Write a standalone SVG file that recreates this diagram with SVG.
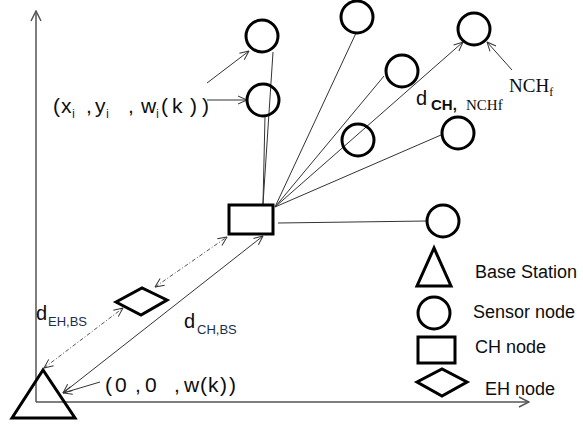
<svg xmlns="http://www.w3.org/2000/svg" width="583" height="425" viewBox="0 0 583 425">
<style>
.node{fill:none;stroke:#000;stroke-width:3}
.ln{stroke:#333;stroke-width:1;fill:none}
.ax{stroke:#555;stroke-width:1.5;fill:none}
.dd{stroke:#555;stroke-width:1;fill:none;stroke-dasharray:4 2 1 2}
.t{font-family:"Liberation Sans",Arial,sans-serif;fill:#0d0d0d}
.s{font-family:"Liberation Serif","Times New Roman",serif;fill:#0d0d0d}
.sub{font-size:13px;fill:#1c2f4a}
</style>
<defs>
<marker id="arr" viewBox="0 0 10 10" refX="9.5" refY="5" markerWidth="10" markerHeight="10" markerUnits="userSpaceOnUse" orient="auto-start-reverse">
<path d="M0.5,1 L9.5,5 L0.5,9" fill="none" stroke="#333" stroke-width="1"/>
</marker>
<marker id="axarr" viewBox="0 0 12 12" refX="11" refY="6" markerWidth="12" markerHeight="12" markerUnits="userSpaceOnUse" orient="auto">
<path d="M1,1 L11,6 L1,11" fill="none" stroke="#555" stroke-width="1.5"/>
</marker>
</defs>

<g id="axes">
<line class="ax" x1="36" y1="402" x2="36" y2="11" marker-end="url(#axarr)"/>
<line class="ax" x1="36" y1="402" x2="529" y2="402" marker-end="url(#axarr)"/>
</g>

<g id="connectors">
<line class="ln" x1="263" y1="204" x2="273" y2="52"/>
<line class="ln" x1="263" y1="204" x2="265" y2="116"/>
<line class="ln" x1="275" y1="207" x2="356" y2="33"/>
<line class="ln" x1="275" y1="207" x2="384" y2="76"/>
<line class="ln" x1="275" y1="207" x2="463" y2="42" marker-end="url(#arr)"/>
<line class="ln" x1="275" y1="207" x2="441" y2="135"/>
<line class="ln" x1="278" y1="223" x2="427" y2="221"/>
<line class="ln" x1="63" y1="393" x2="263" y2="236" marker-start="url(#arr)" marker-end="url(#arr)"/>
<line class="dd" x1="44" y1="368" x2="123" y2="308" marker-start="url(#arr)" marker-end="url(#arr)"/>
<line class="dd" x1="155" y1="287" x2="227" y2="237" marker-start="url(#arr)" marker-end="url(#arr)"/>
<line class="ln" x1="207" y1="83" x2="249" y2="51" marker-end="url(#arr)"/>
<line class="ln" x1="207" y1="100" x2="247" y2="100" marker-end="url(#arr)"/>
<line class="ln" x1="512" y1="70" x2="487" y2="42" marker-end="url(#arr)"/>
<line class="ln" x1="100" y1="382" x2="63" y2="393" marker-end="url(#arr)"/>
</g>

<g id="sensor1"><circle class="node" cx="262" cy="36" r="16"/></g>
<g id="sensor2"><circle class="node" cx="263" cy="100" r="16"/></g>
<g id="sensor3"><circle class="node" cx="357" cy="17" r="16"/></g>
<g id="sensor4"><circle class="node" cx="474" cy="29" r="16"/></g>
<g id="sensor5"><circle class="node" cx="402" cy="71" r="16"/></g>
<g id="sensor6"><circle class="node" cx="358" cy="140" r="16"/></g>
<g id="sensor7"><circle class="node" cx="458" cy="133" r="16"/></g>
<g id="sensor8"><circle class="node" cx="443" cy="221" r="16"/></g>
<g id="ch"><rect class="node" x="229" y="205" width="44" height="29"/></g>
<g id="eh"><polygon class="node" stroke-width="2.5" points="116,302 142,288 167,300 141,315"/></g>
<g id="bs"><polygon class="node" points="43,370 12,418 75,418"/></g>

<g id="labels">
<text class="t" font-size="21" y="113"><tspan x="53">(</tspan><tspan x="61">x</tspan><tspan class="sub" x="72" y="118">i</tspan><tspan x="86" y="113">,</tspan><tspan x="95" y="113">y</tspan><tspan class="sub" x="106" y="118">i</tspan><tspan x="128" y="113">,</tspan><tspan x="141" y="113">w</tspan><tspan class="sub" x="156" y="118">i</tspan><tspan x="161" y="113">(</tspan><tspan x="172" y="113">k</tspan><tspan x="190" y="113">)</tspan><tspan x="202" y="113">)</tspan></text>
<text class="t" font-size="20" x="416" y="105">d</text>
<text class="t" font-size="15" font-weight="bold" x="431" y="110" fill="#1c2f4a">CH,</text>
<text class="s" font-size="15" x="466" y="110" fill="#1c2f4a">NCHf</text>
<text class="s" font-size="19" x="509" y="92">NCH<tspan font-size="12" dy="4">f</tspan></text>
<text class="t" font-size="20" x="36" y="320">d<tspan class="sub" font-size="14" x="48" y="326">EH,BS</tspan></text>
<text class="t" font-size="20" x="184" y="328">d<tspan class="sub" font-size="14" x="197" y="334">CH,BS</tspan></text>
<text class="t" font-size="21" y="392"><tspan x="105">(</tspan><tspan x="115">0</tspan><tspan x="135">,</tspan><tspan x="145">0</tspan><tspan x="174">,</tspan><tspan x="184">w</tspan><tspan x="200">(</tspan><tspan x="208">k</tspan><tspan x="220">)</tspan><tspan x="229">)</tspan></text>
</g>

<g id="legend">
<g id="leg-bs"><polygon class="node" points="434,248 417,286 451,286"/><text class="t" font-size="18" x="475" y="278">Base Station</text></g>
<g id="leg-sensor"><circle class="node" cx="434" cy="313" r="16"/><text class="t" font-size="18" x="473" y="318">Sensor node</text></g>
<g id="leg-ch"><rect class="node" x="418" y="337" width="37" height="26"/><text class="t" font-size="18" x="475" y="353">CH node</text></g>
<g id="leg-eh"><polygon class="node" stroke-width="2.5" points="417,382 442,369 467,382 442,396"/><text class="t" font-size="18" x="485" y="395">EH node</text></g>
</g>
</svg>
